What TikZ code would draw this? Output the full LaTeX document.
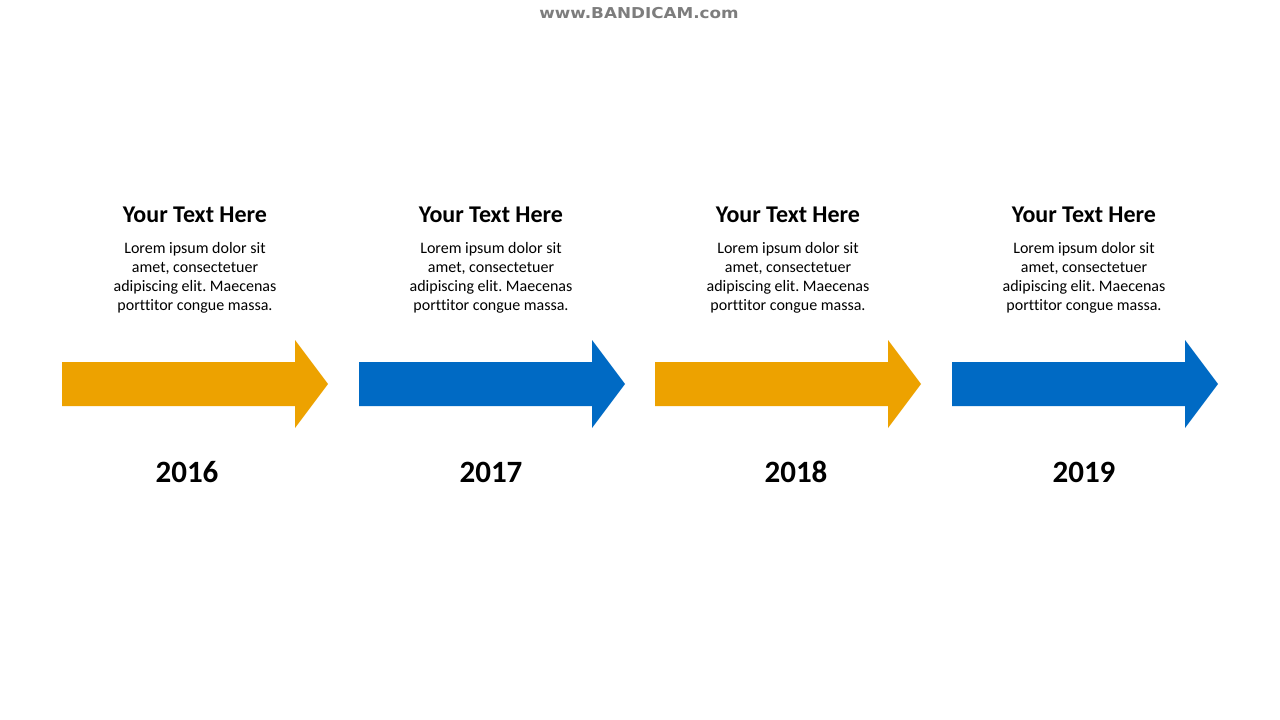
\documentclass[tikz,border=0pt]{standalone}
\usepackage{fontspec}
\setmainfont{Carlito}[Ligatures=CommonOff]
\newfontfamily\wmfont{DejaVu Sans}
\definecolor{tlorange}{RGB}{237,162,0}
\definecolor{tlblue}{RGB}{0,106,196}
\definecolor{wmgray}{RGB}{125,125,125}
\tikzset{
  titletext/.style={anchor=base,inner sep=0pt,font=\fontsize{24}{28}\selectfont\bfseries},
  bodytext/.style={anchor=base,inner sep=0pt,font=\fontsize{16}{19}\selectfont},
  yeartext/.style={anchor=base,inner sep=0pt,font=\fontsize{31}{36}\selectfont\bfseries},
  wmtext/.style={inner sep=0pt,text=wmgray,font=\wmfont\fontsize{15}{17}\selectfont\bfseries}
}
\frenchspacing
\begin{document}
\begin{tikzpicture}[x=1pt,y=-1pt]
\useasboundingbox[fill=white] (0,0) rectangle (1280,720);
\node[wmtext,xscale=1.12,anchor=base] (wm) at (639,19) {www.BANDICAM.com};
% arrows
\foreach \x/\c in {62/tlorange,359/tlblue,655/tlorange,952/tlblue}{
  \fill[\c] (\x,362) -- ({\x+233},362) -- ({\x+233},340) -- ({\x+266},384)
    -- ({\x+233},428) -- ({\x+233},406) -- (\x,406) -- cycle;
}
% texts
\foreach \i/\cx/\yx/\yr in {1/195/187/2016,2/491/491/2017,3/788/796/2018,4/1084/1084/2019}{
  \node[titletext] (title\i) at (\cx,222) {Your Text Here};
  \node[bodytext] (body\i a) at (\cx,253.5) {Lorem ipsum dolor sit};
  \node[bodytext] (body\i b) at (\cx,272.6) {amet, consectetuer};
  \node[bodytext] (body\i c) at (\cx,291.7) {adipiscing elit. Maecenas};
  \node[bodytext] (body\i d) at (\cx,310.8) {porttitor congue massa.};
  \node[yeartext] (year\i) at (\yx,482) {\yr};
}
\end{tikzpicture}
\end{document}
